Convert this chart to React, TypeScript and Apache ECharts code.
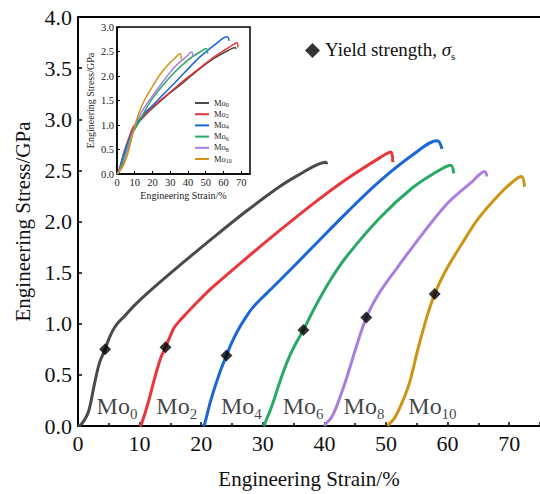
import React, { useEffect, useRef } from "react";
import * as echarts from "echarts";

const FONT = "Liberation Serif, serif";

const seriesNames = ["Mo0", "Mo2", "Mo4", "Mo6", "Mo8", "Mo10"];
const subscripts = ["0", "2", "4", "6", "8", "10"];
const colors = ["#4a4a4a", "#e8363c", "#1a66d8", "#2aa866", "#a97ee0", "#cc9413"];

// Main chart curves: [strain %, stress GPa]
const mainMo0 = [[0, 0], [0.6, 0.02], [1.7, 0.14], [2.7, 0.42], [3.5, 0.62], [4.4, 0.75], [5.0, 0.85], [5.7, 0.94], [6.5, 1.01], [7.5, 1.07], [9.0, 1.17], [11.1, 1.29], [16.5, 1.57], [21.9, 1.84], [27.3, 2.1], [32.7, 2.34], [36.5, 2.48], [38.6, 2.55], [40.2, 2.58], [40.4, 2.56]];
const mainMo2 = [[10.0, 0], [10.3, 0.02], [11.4, 0.23], [12.5, 0.48], [13.4, 0.66], [14.2, 0.77], [14.9, 0.87], [15.6, 0.96], [16.5, 1.03], [17.6, 1.1], [19.5, 1.22], [21.9, 1.36], [27.3, 1.64], [32.7, 1.91], [38.1, 2.17], [43.5, 2.41], [48.9, 2.62], [50.8, 2.68], [51.1, 2.58]];
const mainMo4 = [[20.3, 0], [20.55, 0.02], [21.6, 0.26], [23.0, 0.52], [24.1, 0.69], [25.0, 0.82], [25.9, 0.93], [27.0, 1.04], [28.4, 1.16], [30.5, 1.29], [32.7, 1.42], [38.1, 1.75], [43.5, 2.08], [48.9, 2.39], [54.3, 2.65], [58.3, 2.79], [59.1, 2.71]];
const mainMo6 = [[30.1, 0], [30.3, 0.02], [31.5, 0.2], [32.7, 0.42], [33.9, 0.62], [35.2, 0.79], [36.6, 0.94], [38.1, 1.12], [40.8, 1.41], [43.5, 1.65], [48.9, 2.03], [54.3, 2.33], [58.6, 2.5], [60.5, 2.55], [61.0, 2.47]];
const mainMo8 = [[40.0, 0], [40.2, 0.02], [41.1, 0.08], [41.9, 0.18], [43.5, 0.45], [45.1, 0.76], [46.8, 1.06], [48.9, 1.3], [51.6, 1.53], [54.3, 1.75], [59.7, 2.16], [64.0, 2.39], [66.0, 2.49], [66.4, 2.44]];
const mainMo10 = [[50.3, 0], [50.5, 0.02], [51.3, 0.07], [52.1, 0.16], [53.7, 0.4], [55.3, 0.78], [56.7, 1.08], [57.9, 1.29], [59.7, 1.52], [62.3, 1.78], [65.0, 2.03], [68.3, 2.26], [71.0, 2.41], [72.0, 2.44], [72.5, 2.34]];

// Yield strength points
const yieldPoints = [[4.4, 0.75], [14.2, 0.77], [24.1, 0.69], [36.6, 0.94], [46.8, 1.06], [57.9, 1.29]];

// Curve label anchors (left, bottom)
const labelAnchors = [[3.1, 0.04], [12.8, 0.04], [23.3, 0.04], [33.3, 0.04], [43.2, 0.04], [53.7, 0.04]];

// Inset curves
const insetMo0 = [[0, 0], [1.0, 0.05], [2.8, 0.2], [4.5, 0.45], [7.3, 0.75], [9.5, 0.95], [12.1, 1.05], [18.4, 1.29], [27.4, 1.58], [36.4, 1.84], [45.3, 2.11], [54.3, 2.35], [63.2, 2.53], [66.7, 2.58], [67.1, 2.55]];
const insetMo2 = [[0, 0], [0.5, 0.02], [2.3, 0.23], [4.2, 0.48], [7.0, 0.77], [9.0, 0.95], [12.6, 1.1], [19.8, 1.36], [28.7, 1.63], [37.7, 1.91], [46.6, 2.16], [55.6, 2.41], [64.6, 2.62], [67.7, 2.68], [68.2, 2.58]];
const insetMo4 = [[0, 0], [0.9, 0.02], [2.6, 0.26], [4.9, 0.52], [6.6, 0.69], [9.2, 0.9], [13.6, 1.16], [20.6, 1.42], [29.3, 1.74], [38.1, 2.07], [46.8, 2.39], [55.6, 2.65], [62.0, 2.8], [63.3, 2.72]];
const insetMo6 = [[0, 0], [0.5, 0.02], [3.1, 0.26], [5.3, 0.48], [7.9, 0.78], [10.9, 0.96], [13.4, 1.13], [17.8, 1.42], [22.3, 1.65], [31.2, 2.03], [40.1, 2.33], [47.2, 2.5], [50.3, 2.56], [51.1, 2.46]];
const insetMo8 = [[0, 0], [0.3, 0.02], [3.1, 0.16], [5.7, 0.45], [8.3, 0.78], [11.0, 1.06], [14.4, 1.3], [18.8, 1.53], [23.2, 1.75], [31.9, 2.16], [38.9, 2.39], [42.1, 2.49], [42.8, 2.4]];
const insetMo10 = [[0, 0], [0.8, 0.02], [3.4, 0.16], [6.0, 0.4], [8.6, 0.78], [10.9, 1.08], [12.8, 1.29], [15.7, 1.52], [19.9, 1.78], [24.3, 2.03], [29.6, 2.26], [34.0, 2.41], [35.6, 2.46], [36.3, 2.34]];

const mainData = [mainMo0, mainMo2, mainMo4, mainMo6, mainMo8, mainMo10];
const insetData = [insetMo0, insetMo2, insetMo4, insetMo6, insetMo8, insetMo10];

const xTicksMain = { min: 0, max: 75, interval: 10 };
const yTicksMain = { min: 0, max: 4, interval: 0.5 };
const xTicksInset = { min: 0, max: 75, interval: 10 };
const yTicksInset = { min: 0, max: 3, interval: 0.5 };

export default function App() {
  const ref = useRef<HTMLDivElement>(null);
  useEffect(() => {
    document.body.style.margin = "0";
    const chart = echarts.init(ref.current!, undefined, { renderer: "svg" });
    const axisLine = { show: true, onZero: false, lineStyle: { color: "#000", width: 2 } };
    const insetAxisLine = { show: true, onZero: false, lineStyle: { color: "#000", width: 1.5 } };
    const series: any[] = [];
    mainData.forEach((d, i) => {
      series.push({
        name: "main" + i,
        type: "line",
        xAxisIndex: 0,
        yAxisIndex: 0,
        data: d,
        showSymbol: false,
        smooth: 0.35,
        lineStyle: { color: colors[i], width: 3 },
        itemStyle: { color: colors[i] },
        z: 3,
      });
    });
    series.push({
      name: "Yield strength",
      type: "scatter",
      xAxisIndex: 0,
      yAxisIndex: 0,
      data: yieldPoints,
      symbol: "diamond",
      symbolSize: 12,
      itemStyle: { color: "#000" },
      z: 5,
    });
    series.push({
      name: "labels",
      type: "scatter",
      xAxisIndex: 0,
      yAxisIndex: 0,
      data: labelAnchors.map((p) => ({ value: p })),
      symbolSize: 1,
      itemStyle: { color: "rgba(0,0,0,0)" },
      silent: true,
      label: {
        show: true,
        position: [0, 0],
        align: "left",
        verticalAlign: "bottom",
        fontFamily: FONT,
        formatter: (p: any) => "{m|Mo}{s|" + subscripts[p.dataIndex] + "}",
        rich: {
          m: { fontFamily: FONT, fontSize: 24, color: "#111", verticalAlign: "bottom", padding: [0, 0, 3, 0] },
          s: { fontFamily: FONT, fontSize: 15, color: "#111", verticalAlign: "bottom" },
        },
      },
      z: 4,
    });
    insetData.forEach((d, i) => {
      series.push({
        name: seriesNames[i],
        type: "line",
        xAxisIndex: 2,
        yAxisIndex: 1,
        data: d,
        showSymbol: false,
        smooth: 0.35,
        lineStyle: { color: colors[i], width: 1.5 },
        itemStyle: { color: colors[i] },
        z: 10,
      });
    });

    chart.setOption({
      animation: false,
      backgroundColor: "#fff",
      textStyle: { fontFamily: FONT },
      grid: [
        { left: 78, top: 17, right: 0, bottom: 64 },
        { left: 117, top: 27, width: 133, height: 147, show: true, backgroundColor: "#fff", borderColor: "#000", borderWidth: 1.5, z: 8 },
      ],
      xAxis: [
        {
          type: "value",
          gridIndex: 0,
          ...xTicksMain,
          name: "Engineering Strain/%",
          nameLocation: "middle",
          nameGap: 42,
          nameTextStyle: { fontFamily: FONT, fontSize: 21, color: "#111" },
          axisLine,
          axisTick: { show: true, inside: true, length: 4, lineStyle: { color: "#000", width: 1.5 } },
          minorTick: { show: true, splitNumber: 2, length: 3, lineStyle: { color: "#000", width: 1.5 } },
          axisLabel: { fontFamily: FONT, fontSize: 22, color: "#111", margin: 6, showMaxLabel: false },
          splitLine: { show: false },
        },
        {
          type: "value",
          gridIndex: 0,
          position: "top",
          ...xTicksMain,
          axisLine,
          axisTick: { show: false },
          axisLabel: { show: false },
          splitLine: { show: false },
        },
        {
          type: "value",
          gridIndex: 1,
          ...xTicksInset,
          name: "Engineering Strain/%",
          nameLocation: "middle",
          nameGap: 16,
          nameTextStyle: { fontFamily: FONT, fontSize: 10, color: "#222" },
          axisLine: insetAxisLine,
          axisTick: { show: true, inside: true, length: 3, lineStyle: { color: "#000" } },
          axisLabel: { fontFamily: FONT, fontSize: 10.5, color: "#222", margin: 3, showMaxLabel: false },
          splitLine: { show: false },
          z: 9,
        },
      ],
      yAxis: [
        {
          type: "value",
          gridIndex: 0,
          ...yTicksMain,
          name: "Engineering Stress/GPa",
          nameLocation: "middle",
          nameGap: 37,
          nameTextStyle: { fontFamily: FONT, fontSize: 21, color: "#111" },
          axisLine,
          axisTick: { show: true, inside: true, length: 4, lineStyle: { color: "#000", width: 1.5 } },
          axisLabel: { fontFamily: FONT, fontSize: 22, color: "#111", margin: 6, formatter: (v: number) => v.toFixed(1) },
          splitLine: { show: false },
        },
        {
          type: "value",
          gridIndex: 1,
          ...yTicksInset,
          name: "Engineering Stress/GPa",
          nameLocation: "middle",
          nameGap: 22,
          nameTextStyle: { fontFamily: FONT, fontSize: 10, color: "#222" },
          axisLine: insetAxisLine,
          axisTick: { show: true, inside: true, length: 3, lineStyle: { color: "#000" } },
          axisLabel: { fontFamily: FONT, fontSize: 10.5, color: "#222", margin: 3, formatter: (v: number) => v.toFixed(1) },
          splitLine: { show: false },
          z: 9,
        },
      ],
      legend: [
        {
          data: seriesNames,
          orient: "vertical",
          left: 190,
          top: 93,
          itemWidth: 14,
          itemHeight: 2,
          itemGap: 1.2,
          icon: "rect",
          z: 12,
          formatter: (name: string) => "{m|Mo}{s|" + name.slice(2) + "}",
          textStyle: {
            fontFamily: FONT,
            rich: {
              m: { fontFamily: FONT, fontSize: 8.5, lineHeight: 10, color: "#222", verticalAlign: "bottom", padding: [0, 0, 1, 0] },
              s: { fontFamily: FONT, fontSize: 6, lineHeight: 8, color: "#222", verticalAlign: "bottom" },
            },
          },
          selectedMode: false,
        },
        {
          data: ["Yield strength"],
          left: 300,
          top: 35,
          itemWidth: 15,
          itemHeight: 15,
          icon: "diamond",
          selectedMode: false,
          formatter: () => "{a|Yield strength, }{b|σ}{c|s}",
          textStyle: {
            fontFamily: FONT,
            rich: {
              a: { fontFamily: FONT, fontSize: 19, color: "#111", verticalAlign: "bottom", padding: [0, 0, 2, 0] },
              b: { fontFamily: FONT, fontSize: 19, fontStyle: "italic", color: "#111", verticalAlign: "bottom", padding: [0, 0, 2, 0] },
              c: { fontFamily: FONT, fontSize: 11, color: "#111", verticalAlign: "bottom" },
            },
          },
        },
      ],
      series,
    });
    return () => chart.dispose();
  }, []);
  return <div ref={ref} style={{ width: 540, height: 494 }} />;
}
